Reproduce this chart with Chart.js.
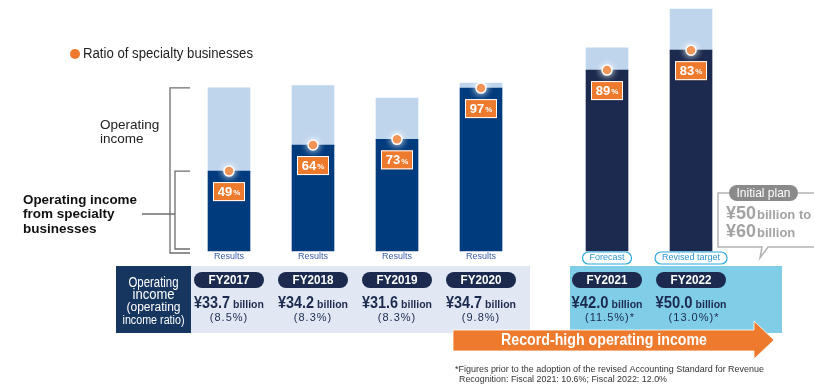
<!DOCTYPE html>
<html>
<head>
<meta charset="utf-8">
<script src="https://cdn.jsdelivr.net/npm/chart.js@4.4.0/dist/chart.umd.min.js"></script>
<style>
  html, body { margin: 0; background: #fff; }
  #wrap { width: 814px; height: 385px; position: relative; }
</style>
</head>
<body>
<div id="wrap"><canvas id="incomeChart"></canvas></div>
<script>
// Operating income by fiscal year (billion yen) and share coming from specialty businesses
const years = ['FY2017', 'FY2018', 'FY2019', 'FY2020', 'FY2021', 'FY2022'];
const slots = [0, 1, 2, 3, 4.5, 5.5];
const operatingIncome = [33.7, 34.2, 31.6, 34.7, 42.0, 50.0];
const specialtyRatio = [49, 64, 73, 97, 89, 83];
const incomeRatio = ['8.5%', '8.3%', '8.3%', '9.8%', '11.5%', '13.0%'];
const ratioNote = ['', '', '', '', '*', '*'];
const stages = ['Results', 'Results', 'Results', 'Results', 'Forecast', 'Revised target'];

const specialtyIncome = operatingIncome.map((v, i) => +(v * specialtyRatio[i] / 100).toFixed(2));
const otherIncome = operatingIncome.map((v, i) => +(v - specialtyIncome[i]).toFixed(2));

const NAVY = '#1b2a4e';
const BLUE = '#003b7e';
const LIGHT = '#bed5ec';
const ORANGE = '#ee7a2d';
const CYAN = '#80cde7';
const PALE = '#e2e8f3';
const CYAN_LINE = '#2aa9e0';
const FONT = "'Liberation Sans', Arial, sans-serif";

const isPlan = i => stages[i] !== 'Results';

const pts = arr => arr.map((v, i) => ({ x: slots[i], y: v }));

function put(ctx, str, x, y, font, color, align, maxW) {
    ctx.font = font;
    ctx.fillStyle = color;
    ctx.textAlign = align || 'left';
    ctx.textBaseline = 'middle';
    if (maxW) ctx.fillText(str, x, y, maxW);
    else ctx.fillText(str, x, y);
}

// big number + small unit, centred together
function putAmount(ctx, big, small, cx, y, bigFont, smallFont, color, bigMax, gap) {
    gap = gap === undefined ? 2 : gap;
    ctx.font = bigFont;
    const w1 = bigMax ? Math.min(bigMax, ctx.measureText(big).width) : ctx.measureText(big).width;
    ctx.font = smallFont;
    const w2 = ctx.measureText(small).width;
    const x0 = cx - (w1 + gap + w2) / 2;
    put(ctx, big, x0, y, bigFont, color, 'left', bigMax);
    put(ctx, small, x0 + w1 + gap, y + 1, smallFont, color, 'left');
}

function pill(ctx, cx, cy, w, h, fill, stroke) {
    ctx.beginPath();
    ctx.roundRect(cx - w / 2, cy - h / 2, w, h, h / 2);
    if (fill) { ctx.fillStyle = fill; ctx.fill(); }
    if (stroke) { ctx.strokeStyle = stroke; ctx.lineWidth = 1.2; ctx.stroke(); }
}

const dotGlow = {
    id: 'dotGlow',
    beforeDatasetDraw(chart, args) {
        if (args.meta.type !== 'line') return;
        chart.ctx.save();
        chart.ctx.shadowColor = 'rgba(255,255,255,0.95)';
        chart.ctx.shadowBlur = 7;
    },
    afterDatasetDraw(chart, args) {
        if (args.meta.type !== 'line') return;
        chart.ctx.restore();
    }
};

const annotations = {
    id: 'annotations',
    afterDatasetsDraw(chart) {
        const ctx = chart.ctx;
        const dots = chart.getDatasetMeta(0).data;
        ctx.save();
        // ratio boxes under each dot
        dots.forEach((p, i) => {
            const bx = p.x - 16, by = p.y + 11;
            ctx.fillStyle = ORANGE;
            ctx.fillRect(bx, by, 32, 19);
            ctx.strokeStyle = '#fff';
            ctx.lineWidth = 1;
            ctx.strokeRect(bx + 0.5, by + 0.5, 31, 18);
            putAmount(ctx, String(specialtyRatio[i]), '%', p.x, by + 10,
                "bold 13px " + FONT, "bold 8px " + FONT, '#fff', null, 1);
        });
        ctx.restore();
    },
    afterDraw(chart) {
        const ctx = chart.ctx;
        const xS = chart.scales.x, yS = chart.scales.y;
        const cx = slots.map(s => xS.getPixelForValue(s));
        const base = yS.getPixelForValue(0);
        ctx.save();

        // legend
        ctx.beginPath();
        ctx.arc(75, 54, 5, 0, Math.PI * 2);
        ctx.fillStyle = ORANGE;
        ctx.fill();
        put(ctx, 'Ratio of specialty businesses', 83, 54, "14px " + FONT, '#222', 'left', 170);

        // brackets on the left
        const topAll = yS.getPixelForValue(operatingIncome[0]);
        const topSp = yS.getPixelForValue(specialtyIncome[0]);
        ctx.strokeStyle = '#6d6d6d';
        ctx.lineWidth = 1.3;
        ctx.beginPath();
        ctx.moveTo(190, topAll); ctx.lineTo(170, topAll); ctx.lineTo(170, base + 2); ctx.lineTo(190, base + 2);
        ctx.moveTo(190, topSp); ctx.lineTo(175, topSp); ctx.lineTo(175, base - 2); ctx.lineTo(190, base - 2);
        ctx.moveTo(142, 214); ctx.lineTo(175, 214);
        ctx.stroke();
        put(ctx, 'Operating', 100, 125, "13.5px " + FONT, '#222', 'left');
        put(ctx, 'income', 100, 139, "13.5px " + FONT, '#222', 'left');
        put(ctx, 'Operating income', 23, 200, "bold 13.5px " + FONT, '#111', 'left', 114);
        put(ctx, 'from specialty', 23, 214, "bold 13.5px " + FONT, '#111', 'left');
        put(ctx, 'businesses', 23, 229, "bold 13.5px " + FONT, '#111', 'left');

        // stage tags under bars
        stages.forEach((s, i) => {
            if (isPlan(i)) {
                ctx.font = "9px " + FONT;
                const w = ctx.measureText(s).width + 14;
                pill(ctx, cx[i], 258, w, 12, '#fff', CYAN_LINE);
                put(ctx, s, cx[i], 258, "9px " + FONT, '#2f95d0', 'center');
            } else {
                put(ctx, s, cx[i], 257, "9px " + FONT, '#3a5ca5', 'center');
            }
        });

        // table panels
        ctx.fillStyle = '#17365f';
        ctx.fillRect(116, 266, 75, 67);
        ctx.fillStyle = PALE;
        ctx.fillRect(cx[0] - 38, 266, cx[3] + 49 - (cx[0] - 38), 67);
        ctx.fillStyle = CYAN;
        ctx.fillRect(cx[4] - 37, 266, cx[5] + 91 - (cx[4] - 37), 67);
        put(ctx, 'Operating', 153.5, 283, "14px " + FONT, '#fff', 'center', 50);
        put(ctx, 'income', 153.5, 295, "14px " + FONT, '#fff', 'center', 42);
        put(ctx, '(operating', 153.5, 308, "12px " + FONT, '#fff', 'center', 56);
        put(ctx, 'income ratio)', 153.5, 321, "12px " + FONT, '#fff', 'center', 62);

        years.forEach((y, i) => {
            pill(ctx, cx[i], 280, 70, 16, NAVY);
            put(ctx, y, cx[i], 280.5, "bold 13px " + FONT, '#fff', 'center', 41);
            putAmount(ctx, '¥' + operatingIncome[i].toFixed(1), 'billion', cx[i], 304,
                "bold 16px " + FONT, "bold 10.5px " + FONT, NAVY, i >= 4 ? 37 : 36, 3);
            ctx.letterSpacing = '1px';
            put(ctx, '(' + incomeRatio[i] + ')' + ratioNote[i], cx[i] + (ratioNote[i] ? 3 : 0), 318,
                "11px " + FONT, NAVY, 'center');
            ctx.letterSpacing = '0px';
        });

        // arrow
        ctx.beginPath();
        ctx.moveTo(453, 330); ctx.lineTo(754, 330); ctx.lineTo(754, 321); ctx.lineTo(774, 340);
        ctx.lineTo(754, 359); ctx.lineTo(754, 351); ctx.lineTo(453, 351); ctx.closePath();
        ctx.fillStyle = ORANGE;
        ctx.fill();
        ctx.strokeStyle = 'rgba(255,255,255,0.8)';
        ctx.lineWidth = 1;
        ctx.stroke();
        put(ctx, 'Record-high operating income', 604, 341, "bold 16px " + FONT, '#fff', 'center', 206);

        // footnote
        put(ctx, '*Figures prior to the adoption of the revised Accounting Standard for Revenue', 455, 369,
            "9.5px " + FONT, '#333', 'left', 309);
        put(ctx, 'Recognition: Fiscal 2021: 10.6%; Fiscal 2022: 12.0%', 459, 379,
            "9.5px " + FONT, '#333', 'left', 208);

        // initial plan callout
        ctx.strokeStyle = '#b3b3b3';
        ctx.lineWidth = 1.5;
        ctx.beginPath();
        ctx.moveTo(729, 193); ctx.lineTo(718, 193); ctx.lineTo(718, 247); ctx.lineTo(762, 247);
        ctx.lineTo(760, 258); ctx.lineTo(768, 247); ctx.lineTo(816, 247);
        ctx.moveTo(798, 193); ctx.lineTo(816, 193);
        ctx.stroke();
        pill(ctx, 763.5, 193, 69, 16, '#8a8a8a');
        put(ctx, 'Initial plan', 763.5, 193.5, "12px " + FONT, '#fff', 'center', 58);
        put(ctx, '¥50', 726, 214, "bold 18px " + FONT, '#a3a3a3', 'left');
        put(ctx, 'billion to', 757, 215, "bold 13px " + FONT, '#a3a3a3', 'left', 56);
        put(ctx, '¥60', 726, 232, "bold 18px " + FONT, '#a3a3a3', 'left');
        put(ctx, 'billion', 757, 233, "bold 13px " + FONT, '#a3a3a3', 'left');

        ctx.restore();
    }
};

new Chart(document.getElementById('incomeChart'), {
    type: 'bar',
    data: {
        datasets: [
            {
                type: 'line',
                label: 'Ratio of specialty businesses',
                data: pts(specialtyIncome),
                showLine: false,
                stack: 'ratio',
                order: 0,
                pointRadius: 5,
                pointBackgroundColor: ORANGE,
                pointBorderColor: '#fff',
                pointBorderWidth: 1.5,
            },
            {
                label: 'Operating income from specialty businesses',
                data: pts(specialtyIncome),
                stack: 'income',
                order: 1,
                backgroundColor: years.map((_, i) => isPlan(i) ? NAVY : BLUE),
                barThickness: 42,
            },
            {
                label: 'Operating income',
                data: pts(otherIncome),
                stack: 'income',
                order: 2,
                backgroundColor: LIGHT,
                barThickness: 42,
            },
        ],
    },
    options: {
        responsive: true,
        maintainAspectRatio: false,
        animation: false,
        layout: { padding: 0, autoPadding: false },
        plugins: { legend: { display: false }, tooltip: { enabled: false } },
        scales: {
            x: { type: 'linear', min: -2.726, max: 6.964, offset: false, stacked: true, display: false },
            y: { min: -27.69, max: 51.86, stacked: true, display: false },
        },
    },
    plugins: [dotGlow, annotations],
});
</script>
</body>
</html>
